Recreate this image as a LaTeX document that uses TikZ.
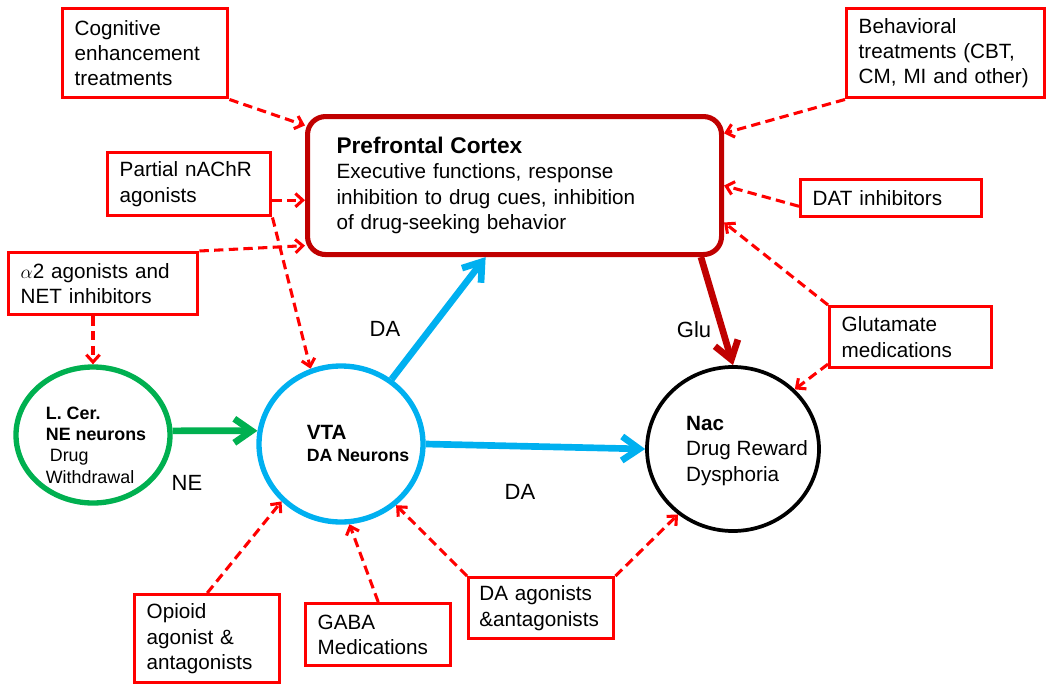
\documentclass[tikz,border=0pt]{standalone}
\usepackage{fontspec}
\setmainfont{Liberation Sans}
\usepackage{amsmath}
\usetikzlibrary{arrows.meta,shapes.geometric}

\definecolor{boxred}{HTML}{FF0000}
\definecolor{pfcred}{HTML}{C00000}
\definecolor{vtablue}{HTML}{00B0F0}
\definecolor{lcgreen}{HTML}{00B050}

\newcommand{\treatfont}{\fontsize{15.5}{19}\selectfont}
\newcommand{\titlefont}{\fontsize{17}{19}\selectfont}
\newcommand{\cellfont}{\fontsize{13.4}{16}\selectfont}
\newcommand{\labelfont}{\fontsize{16.5}{20}\selectfont}
\hyphenpenalty=10000

\begin{document}
\begin{tikzpicture}[x=0.75pt,y=-0.75pt,>={Straight Barb[length=5.5pt,width=10pt]},
                    semithick]
  \tikzstyle{treatment}=[draw=boxred,line width=2.6pt,anchor=north west,align=left,
                         inner xsep=9pt,inner ysep=2pt,font=\treatfont]
  \tikzstyle{region}=[ellipse,inner sep=0pt]
  \tikzstyle{regiontext}=[align=left,inner sep=0pt]
  \tikzstyle{acts}=[->,color=boxred,line width=2.3pt,dash pattern=on 7pt off 4pt]
  \tikzstyle{tract}=[-{Straight Barb[length=13pt,width=18pt]},line width=5pt]
  \tikzstyle{transmitter}=[font=\labelfont,inner sep=0pt]

  \useasboundingbox (0,0) rectangle (1050,689);

  % brain regions
  \node[draw=pfcred,line width=3.8pt,rounded corners=13.5pt,anchor=north west,
        minimum width=310.5pt,minimum height=103.5pt,text width=267pt,
        inner xsep=21.75pt,align=left,font=\treatfont] (PFC) at (305,114)
        {{\titlefont\bfseries Prefrontal Cortex}\\Executive functions, response\\
         inhibition to drug cues, inhibition\\of drug-seeking behavior};
  \node[region,draw=lcgreen,line width=4pt,minimum width=115.5pt,minimum height=102pt]
        (LCER) at (93,435) {};
  \node[region,draw=vtablue,line width=4pt,minimum width=123pt,minimum height=117pt]
        (VTA) at (341,444) {};
  \node[region,draw=black,line width=2.8pt,minimum width=129pt,minimum height=123pt]
        (NAC) at (733,449) {};

  \node[regiontext,font=\cellfont] (LCERtext) at (96,445)
        {\textbf{L. Cer.}\\\textbf{NE neurons}\\\hspace*{3pt}Drug\\Withdrawal};
  \node[regiontext,font=\fontsize{13.3}{16.5}\selectfont\bfseries] (VTAtext) at (358,443)
        {{\fontsize{15.5}{16.5}\selectfont VTA}\\DA Neurons};
  \node[regiontext,font=\treatfont] (NACtext) at (747,451)
        {\textbf{Nac}\\Drug Reward\\Dysphoria};

  % treatments
  \node[treatment,minimum width=123.75pt,minimum height=66.75pt,text width=105.75pt]
        (COG) at (61,7) {Cognitive\\enhancement\\treatments};
  \node[treatment,minimum width=122.25pt,minimum height=47.25pt,text width=104.25pt]
        (PARTIAL) at (106,151) {Partial nAChR\\agonists};
  \node[treatment,minimum width=141.75pt,minimum height=46.5pt,text width=123.75pt]
        (ALPHA) at (7,251) {$\alpha$2 agonists and\\NET inhibitors};
  \node[treatment,minimum width=148.5pt,minimum height=66.75pt,text width=130.5pt]
        (BEHAV) at (845,7) {Behavioral\\treatments (CBT,\\CM, MI and other)};
  \node[treatment,minimum width=135.75pt,minimum height=27.75pt,text width=117.75pt]
        (DAT) at (799,178) {DAT inhibitors};
  \node[treatment,minimum width=121.5pt,minimum height=45.75pt,text width=103.5pt]
        (GLUT) at (828,305) {Glutamate\\medications};
  \node[treatment,minimum width=108.75pt,minimum height=66pt,text width=90.75pt]
        (OPIOID) at (133,593) {Opioid\\agonist \&\\antagonists};
  \node[treatment,minimum width=108.75pt,minimum height=46.5pt,text width=90.75pt]
        (GABA) at (304,602) {GABA\\Medications};
  \node[treatment,minimum width=108.75pt,minimum height=45.75pt,text width=92.75pt,
        inner xsep=8pt] (DAAG) at (467,576) {DA agonists\\\&antagonists};

  % transmitters
  \node[transmitter] (DAPFC) at (385,329) {DA};
  \node[transmitter] (DANAC) at (520,492) {DA};
  \node[transmitter] (NE)    at (187,483) {NE};
  \node[transmitter] (GLU)   at (694,330) {Glu};

  \draw[tract,vtablue] (VTA.52) -- (PFC.248);
  \draw[tract,vtablue] (VTA.east) -- (NAC.west);
  \draw[tract,lcgreen] (LCER.3) -- (VTA.171);
  \draw[tract,pfcred]  (PFC.339) -- (NAC.north);

  \path[acts] (COG.south east) edge (PFC.164)
              (PARTIAL.east |- PFC.184) edge (PFC.184)
              (PARTIAL.south east) edge (VTA.112)
              (ALPHA.north east) edge (PFC.196)
              (ALPHA.south -| LCER.north) edge (LCER.north)
              (BEHAV.south west) edge (PFC.14)
              (DAT.185) edge (PFC.east)
              (GLUT.north west) edge (PFC.350)
              (GLUT.198) edge (NAC.44)
              (OPIOID.north) edge (VTA.224)
              (GABA.north) edge (VTA.276)
              (DAAG.north west) edge (VTA.312)
              (DAAG.north east) edge (NAC.230);
\end{tikzpicture}
\end{document}
